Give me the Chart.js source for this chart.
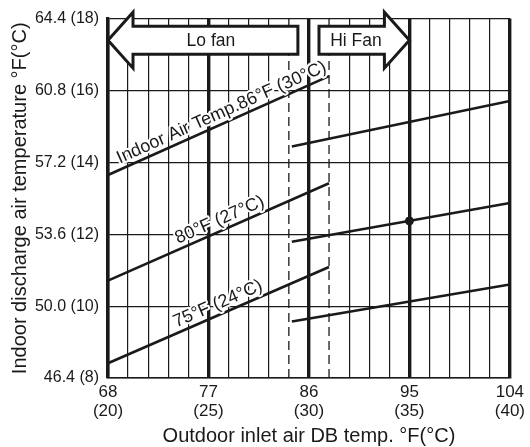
<!DOCTYPE html>
<html>
<head>
<meta charset="utf-8">
<script src="https://cdn.jsdelivr.net/npm/chart.js@4.4.0/dist/chart.umd.min.js"></script>
<style>
  html, body { margin: 0; background: #fff; }
  canvas { display: block; }
</style>
</head>
<body>
<canvas id="chart" width="530" height="447"></canvas>
<script>
// 축은 °C 로 잡고 라벨만 °F (°C) 로 찍는다
const X_MAJOR_C = [20, 25, 30, 35, 40];
const X_MAJOR_F = ["68", "77", "86", "95", "104"];
const Y_TICK_LABELS = ["46.4 (8)", "50.0 (10)", "53.6 (12)", "57.2 (14)", "60.8 (16)", "64.4 (18)"];
const DASH_X = [29, 31];

// Lo fan 구간 (실내 흡입 온도별)
const LO_X = [20, 31];
const LO_86 = [13.65, 16.4];
const LO_80 = [10.71, 13.42];
const LO_75 = [8.41, 11.09];

// Hi fan 구간
const HI_X = [29.15, 40];
const HI_TOP = [14.44, 15.71];
const HI_MID = [11.79, 12.87];
const HI_LOW = [9.57, 10.6];

const RATED_POINT = [35, 12.37];

const LINE_LABELS = ["Indoor Air Temp.86°F (30°C)", "80°F (27°C)", "75°F (24°C)"];
const LINE_LABEL_START = [20.7, 23.6, 23.5];
const LO_SERIES = [LO_86, LO_80, LO_75];

const ARROWS = [
  { text: "Lo fan", tip: 20, tail: 29.45, textX: 25.12 },
  { text: "Hi Fan", tip: 35, tail: 30.5, textX: 32.34 },
];
const ARROW_Y = 17.4;

const INK = "#1a1a1a";
const FONT = '"Liberation Sans", Arial, Helvetica, sans-serif';

const pts = (xs, ys) => xs.map((x, i) => ({ x, y: ys[i] }));
const curve = (xs, ys) => ({
  data: pts(xs, ys),
  borderColor: INK,
  borderWidth: 2.6,
  pointRadius: 0,
  tension: 0,
});
const dashed = (x) => ({
  data: [{ x, y: 8 }, { x, y: 18 }],
  borderColor: INK,
  borderWidth: 1.3,
  borderDash: [9, 5],
  pointRadius: 0,
  order: 5,
});

// 곡선 위 회전 라벨 (흰 테두리로 격자를 가림)
const lineLabels = {
  id: "lineLabels",
  afterDatasetsDraw(chart) {
    const { ctx, scales: { x, y } } = chart;
    ctx.save();
    ctx.font = `18px ${FONT}`;
    ctx.textAlign = "left";
    ctx.textBaseline = "alphabetic";
    LINE_LABELS.forEach((text, i) => {
      const ys = LO_SERIES[i];
      const x0 = x.getPixelForValue(LO_X[0]), y0 = y.getPixelForValue(ys[0]);
      const x1 = x.getPixelForValue(LO_X[1]), y1 = y.getPixelForValue(ys[1]);
      const ang = Math.atan2(y1 - y0, x1 - x0);
      const t = (LINE_LABEL_START[i] - LO_X[0]) / (LO_X[1] - LO_X[0]);
      const px = x0 + (x1 - x0) * t, py = y0 + (y1 - y0) * t;
      ctx.save();
      ctx.translate(px, py);
      ctx.rotate(ang);
      ctx.lineJoin = "round";
      ctx.strokeStyle = "#fff";
      ctx.lineWidth = 4;
      ctx.strokeText(text, 0, -5.5);
      ctx.fillStyle = INK;
      ctx.fillText(text, 0, -5.5);
      ctx.restore();
    });
    ctx.restore();
  },
};

// Lo fan / Hi Fan 화살표
const fanArrows = {
  id: "fanArrows",
  afterDraw(chart) {
    const { ctx, scales: { x, y } } = chart;
    const cy = y.getPixelForValue(ARROW_Y);
    const head = 25, shaft = 14, barb = 28;
    ctx.save();
    for (const a of ARROWS) {
      const tip = x.getPixelForValue(a.tip);
      const tail = x.getPixelForValue(a.tail);
      const dir = tail > tip ? 1 : -1;
      const hb = tip + dir * head;
      ctx.beginPath();
      ctx.moveTo(tip, cy);
      ctx.lineTo(hb, cy - barb);
      ctx.lineTo(hb, cy - shaft);
      ctx.lineTo(tail, cy - shaft);
      ctx.lineTo(tail, cy + shaft);
      ctx.lineTo(hb, cy + shaft);
      ctx.lineTo(hb, cy + barb);
      ctx.closePath();
      ctx.fillStyle = "#fff";
      ctx.fill();
      ctx.lineWidth = 3;
      ctx.lineJoin = "miter";
      ctx.strokeStyle = INK;
      ctx.stroke();
      ctx.fillStyle = INK;
      ctx.font = `17.5px ${FONT}`;
      ctx.textAlign = "center";
      ctx.textBaseline = "middle";
      ctx.fillText(a.text, x.getPixelForValue(a.textX), cy + 1);
    }
    ctx.restore();
  },
};

new Chart(document.getElementById("chart"), {
  type: "line",
  data: {
    datasets: [
      {
        data: [{ x: RATED_POINT[0], y: RATED_POINT[1] }],
        showLine: false,
        pointRadius: 4,
        pointBackgroundColor: INK,
        pointBorderColor: INK,
      },
      curve(LO_X, LO_86),
      curve(LO_X, LO_80),
      curve(LO_X, LO_75),
      curve(HI_X, HI_TOP),
      curve(HI_X, HI_MID),
      curve(HI_X, HI_LOW),
      dashed(DASH_X[0]),
      dashed(DASH_X[1]),
    ],
  },
  options: {
    responsive: false,
    animation: false,
    devicePixelRatio: 1,
    layout: { padding: { top: 16, right: 20, left: 0, bottom: 0 } },
    plugins: { legend: { display: false }, tooltip: { enabled: false } },
    scales: {
      x: {
        type: "linear",
        min: 20,
        max: 40,
        afterFit: (s) => { s.height = 69; },
        afterBuildTicks: (s) => {
          s.ticks = [];
          for (let v = 20; v <= 40; v++) s.ticks.push({ value: v });
        },
        ticks: {
          autoSkip: false,
          maxRotation: 0,
          padding: 5,
          color: INK,
          font: { family: FONT, size: 17, lineHeight: 1.1 },
          callback: (v) => {
            const i = X_MAJOR_C.indexOf(v);
            return i < 0 ? "" : [X_MAJOR_F[i], `(${v})`];
          },
        },
        grid: {
          drawTicks: false,
          color: (c) => (c.tick && DASH_X.includes(c.tick.value) ? "rgba(0,0,0,0)" : INK),
          lineWidth: (c) => (c.tick && X_MAJOR_C.includes(c.tick.value) ? 3.4 : 1.2),
        },
        border: { display: true, color: INK, width: 1.5 },
        title: {
          display: true,
          text: "Outdoor inlet air DB temp. °F(°C)",
          color: INK,
          font: { family: FONT, size: 20, lineHeight: 1.1 },
          padding: { top: 0, bottom: 0 },
        },
      },
      y: {
        type: "linear",
        min: 8,
        max: 18,
        afterFit: (s) => { s.width = 108; },
        ticks: {
          stepSize: 2,
          padding: 9,
          color: INK,
          font: { family: FONT, size: 16 },
          callback: (v, i) => Y_TICK_LABELS[i],
        },
        grid: { drawTicks: false, color: INK, lineWidth: 1.2 },
        border: { display: true, color: INK, width: 3.4 },
        title: {
          display: true,
          text: "Indoor discharge air temperature °F(°C)",
          color: INK,
          font: { family: FONT, size: 20, lineHeight: 1.2 },
          padding: { top: 8, bottom: 0 },
        },
      },
    },
  },
  plugins: [lineLabels, fanArrows],
});
</script>
</body>
</html>
